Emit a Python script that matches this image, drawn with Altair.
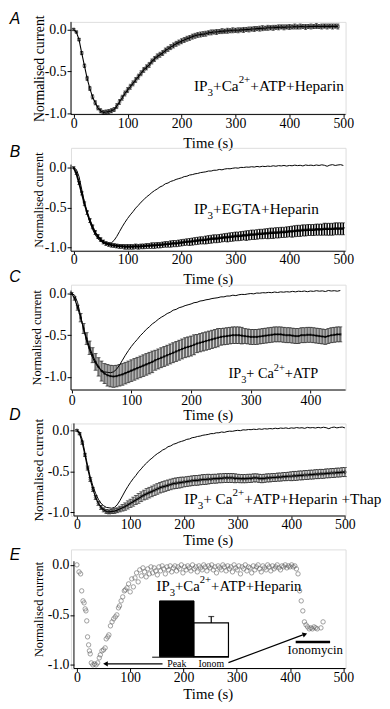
import altair as alt
import pandas as pd

SERIF = "Liberation Serif"
SANS = "Liberation Sans"

# ---------------- data ----------------
a_time = list(range(0, 491, 5))
a_mean = [0.00, -0.03, -0.12, -0.28, -0.43, -0.58, -0.70, -0.80, -0.87, -0.93,
          -0.965, -0.985, -0.98, -0.975, -0.965, -0.95, -0.91, -0.86, -0.81, -0.76,
          -0.72, -0.68, -0.64, -0.60, -0.56, -0.52, -0.48, -0.45, -0.42, -0.38,
          -0.35, -0.32, -0.30, -0.28, -0.25, -0.23, -0.21, -0.19, -0.17, -0.155,
          -0.14, -0.125, -0.11, -0.10, -0.085, -0.075, -0.065, -0.06, -0.055, -0.05,
          -0.04, -0.035, -0.03, -0.03, -0.025, -0.02, -0.02, -0.015, -0.015, -0.01,
          -0.01, -0.01, -0.005, -0.005, 0.0, 0.0, 0.005, 0.005, 0.01, 0.01,
          0.015, 0.015, 0.02, 0.02, 0.02, 0.025, 0.025, 0.03, 0.025, 0.03,
          0.03, 0.03, 0.035, 0.03, 0.035, 0.035, 0.03, 0.035, 0.035, 0.035,
          0.04, 0.035, 0.035, 0.04, 0.035, 0.04, 0.035, 0.04, 0.035]
a_err = [0.01, 0.01, 0.015, 0.02, 0.02, 0.025, 0.025, 0.025, 0.025, 0.025,
         0.025, 0.025, 0.025, 0.025, 0.025, 0.025, 0.03, 0.03, 0.03, 0.03,
         0.03, 0.03, 0.03, 0.03, 0.03, 0.03, 0.03, 0.03, 0.03, 0.03,
         0.03, 0.03, 0.03, 0.03, 0.03, 0.03, 0.03, 0.03, 0.03, 0.03,
         0.03, 0.03, 0.03, 0.03, 0.03, 0.03, 0.03, 0.03, 0.03, 0.03,
         0.025, 0.03, 0.025, 0.03, 0.025, 0.03, 0.025, 0.03, 0.025, 0.03,
         0.025, 0.03, 0.025, 0.03, 0.025, 0.03, 0.025, 0.03, 0.025, 0.03,
         0.03, 0.025, 0.03, 0.025, 0.03, 0.025, 0.03, 0.025, 0.03, 0.025,
         0.03, 0.025, 0.03, 0.025, 0.03, 0.025, 0.03, 0.025, 0.03, 0.025,
         0.03, 0.025, 0.03, 0.025, 0.03, 0.025, 0.03, 0.025, 0.03]

b_time = list(range(0, 501, 5))
b_mean = [0.00, -0.07, -0.19, -0.32, -0.45, -0.56, -0.66, -0.74, -0.81, -0.86,
          -0.90, -0.93, -0.95, -0.96, -0.97, -0.975, -0.98, -0.985, -0.985, -0.99,
          -0.99, -0.99, -0.99, -0.985, -0.99, -0.985, -0.985, -0.98, -0.98, -0.975,
          -0.975, -0.97, -0.97, -0.965, -0.96, -0.96, -0.955, -0.95, -0.95, -0.945,
          -0.94, -0.935, -0.93, -0.93, -0.925, -0.92, -0.915, -0.91, -0.91, -0.905,
          -0.90, -0.895, -0.89, -0.89, -0.885, -0.88, -0.875, -0.875, -0.87, -0.865,
          -0.86, -0.86, -0.855, -0.85, -0.85, -0.845, -0.84, -0.84, -0.835, -0.83,
          -0.83, -0.825, -0.825, -0.82, -0.82, -0.815, -0.815, -0.81, -0.81, -0.805,
          -0.80, -0.80, -0.795, -0.79, -0.79, -0.785, -0.785, -0.78, -0.78, -0.78,
          -0.775, -0.775, -0.775, -0.77, -0.77, -0.77, -0.77, -0.765, -0.765, -0.765, -0.765]
b_err = [0.01, 0.015, 0.02, 0.02, 0.025, 0.025, 0.025, 0.025, 0.025, 0.025,
         0.025, 0.025, 0.025, 0.025, 0.025, 0.025, 0.025, 0.025, 0.025, 0.03,
         0.03, 0.03, 0.03, 0.03, 0.03, 0.03, 0.03, 0.03, 0.03, 0.035,
         0.035, 0.035, 0.035, 0.035, 0.035, 0.035, 0.04, 0.04, 0.04, 0.04,
         0.04, 0.04, 0.04, 0.045, 0.045, 0.045, 0.045, 0.045, 0.045, 0.05,
         0.05, 0.05, 0.05, 0.05, 0.05, 0.05, 0.05, 0.055, 0.055, 0.055,
         0.055, 0.055, 0.055, 0.055, 0.06, 0.06, 0.06, 0.06, 0.06, 0.06,
         0.06, 0.06, 0.065, 0.065, 0.065, 0.065, 0.065, 0.065, 0.065, 0.065,
         0.065, 0.07, 0.07, 0.07, 0.07, 0.07, 0.07, 0.07, 0.07, 0.07,
         0.07, 0.07, 0.07, 0.075, 0.075, 0.075, 0.075, 0.075, 0.075, 0.075, 0.075]

ctrl_time = list(range(0, 501, 5))
ctrl = [0.00, -0.02, -0.11, -0.27, -0.43, -0.57, -0.68, -0.77, -0.84, -0.89,
        -0.92, -0.94, -0.945, -0.95, -0.94, -0.91, -0.86, -0.80, -0.74, -0.685,
        -0.635, -0.59, -0.55, -0.505, -0.47, -0.43, -0.40, -0.365, -0.34, -0.31,
        -0.285, -0.265, -0.24, -0.225, -0.20, -0.19, -0.17, -0.16, -0.145, -0.135,
        -0.125, -0.11, -0.105, -0.09, -0.085, -0.075, -0.07, -0.06, -0.055, -0.05,
        -0.04, -0.04, -0.03, -0.03, -0.02, -0.025, -0.015, -0.01, -0.012, -0.005,
        0.0, -0.004, 0.006, 0.004, 0.01, 0.008, 0.014, 0.01, 0.018, 0.012,
        0.02, 0.016, 0.022, 0.018, 0.026, 0.02, 0.028, 0.024, 0.03, 0.022,
        0.03, 0.026, 0.034, 0.028, 0.032, 0.024, 0.036, 0.03, 0.034, 0.028,
        0.036, 0.03, 0.038, 0.032, 0.02, 0.034, 0.04, 0.03, 0.036, 0.04, 0.03]

c_time = list(range(0, 451, 5))
c_mean = [0.00, -0.06, -0.17, -0.29, -0.42, -0.54, -0.65, -0.74, -0.82, -0.88,
          -0.93, -0.96, -0.98, -0.99, -0.995, -0.99, -0.98, -0.97, -0.955, -0.94,
          -0.925, -0.91, -0.895, -0.88, -0.865, -0.85, -0.835, -0.82, -0.80, -0.785,
          -0.77, -0.755, -0.74, -0.725, -0.71, -0.695, -0.68, -0.665, -0.65, -0.64,
          -0.63, -0.615, -0.60, -0.59, -0.58, -0.57, -0.56, -0.55, -0.54, -0.53,
          -0.52, -0.515, -0.51, -0.505, -0.50, -0.50, -0.50, -0.505, -0.51, -0.515,
          -0.52, -0.52, -0.52, -0.515, -0.51, -0.505, -0.50, -0.495, -0.49, -0.49,
          -0.49, -0.495, -0.50, -0.50, -0.505, -0.51, -0.51, -0.50, -0.50, -0.495,
          -0.495, -0.50, -0.505, -0.51, -0.515, -0.52, -0.51, -0.50, -0.495, -0.49,
          -0.49]
c_err = [0.01, 0.02, 0.03, 0.05, 0.06, 0.07, 0.08, 0.09, 0.10, 0.11,
         0.12, 0.12, 0.13, 0.13, 0.13, 0.13, 0.13, 0.13, 0.13, 0.13,
         0.13, 0.13, 0.13, 0.13, 0.13, 0.13, 0.13, 0.13, 0.12, 0.12,
         0.12, 0.12, 0.12, 0.12, 0.12, 0.12, 0.12, 0.12, 0.12, 0.12,
         0.12, 0.12, 0.11, 0.11, 0.11, 0.11, 0.11, 0.11, 0.11, 0.11,
         0.10, 0.10, 0.10, 0.10, 0.10, 0.10, 0.10, 0.10, 0.09, 0.09,
         0.09, 0.09, 0.09, 0.09, 0.09, 0.09, 0.09, 0.09, 0.09, 0.09,
         0.09, 0.09, 0.09, 0.09, 0.09, 0.09, 0.09, 0.09, 0.09, 0.09,
         0.09, 0.09, 0.09, 0.09, 0.09, 0.09, 0.09, 0.09, 0.09, 0.09,
         0.09]

d_time = list(range(0, 501, 5))
d_mean = [0.00, -0.04, -0.15, -0.30, -0.46, -0.60, -0.72, -0.82, -0.89, -0.94,
          -0.97, -0.99, -0.995, -0.99, -0.985, -0.975, -0.96, -0.945, -0.93, -0.91,
          -0.89, -0.87, -0.85, -0.83, -0.81, -0.79, -0.775, -0.76, -0.745, -0.73,
          -0.715, -0.70, -0.69, -0.68, -0.67, -0.66, -0.65, -0.645, -0.64, -0.635,
          -0.63, -0.625, -0.62, -0.615, -0.61, -0.61, -0.605, -0.60, -0.60, -0.595,
          -0.595, -0.59, -0.59, -0.585, -0.585, -0.58, -0.58, -0.58, -0.58, -0.585,
          -0.585, -0.59, -0.59, -0.59, -0.585, -0.585, -0.58, -0.58, -0.585, -0.59,
          -0.585, -0.58, -0.58, -0.575, -0.575, -0.57, -0.57, -0.565, -0.565, -0.56,
          -0.56, -0.555, -0.555, -0.55, -0.55, -0.545, -0.545, -0.54, -0.54, -0.535,
          -0.535, -0.53, -0.53, -0.525, -0.525, -0.52, -0.52, -0.515, -0.515, -0.51, -0.51]
d_err = [0.01, 0.015, 0.02, 0.02, 0.025, 0.025, 0.025, 0.025, 0.025, 0.025,
         0.025, 0.025, 0.025, 0.025, 0.03, 0.03, 0.035, 0.04, 0.045, 0.05,
         0.05, 0.055, 0.055, 0.06, 0.06, 0.06, 0.065, 0.065, 0.065, 0.065,
         0.065, 0.065, 0.065, 0.065, 0.065, 0.065, 0.065, 0.065, 0.065, 0.065,
         0.06, 0.06, 0.06, 0.06, 0.06, 0.06, 0.06, 0.06, 0.06, 0.06,
         0.055, 0.055, 0.055, 0.055, 0.055, 0.055, 0.055, 0.055, 0.055, 0.055,
         0.05, 0.05, 0.05, 0.05, 0.05, 0.05, 0.05, 0.05, 0.05, 0.05,
         0.05, 0.05, 0.05, 0.05, 0.05, 0.05, 0.05, 0.05, 0.05, 0.05,
         0.055, 0.055, 0.055, 0.055, 0.055, 0.055, 0.055, 0.055, 0.055, 0.055,
         0.055, 0.055, 0.055, 0.055, 0.055, 0.055, 0.055, 0.055, 0.055, 0.055, 0.055]

e_time = [0, 4, 7, 9, 11.5, 13.5, 15.5, 17, 18.5, 20,
          22, 23.5, 25, 27, 30, 33, 36, 39, 42, 44,
          47, 50, 53, 55, 58, 60, 63, 66, 69, 72,
          75, 78, 80, 83, 86, 89, 91, 94, 97, 100,
          103, 106, 109, 112, 115, 118, 121, 124, 127, 130,
          133, 136, 139, 142, 145, 148, 151, 154, 157, 160,
          163, 166, 169, 172, 175, 178, 181, 184, 187, 190,
          193, 196, 199, 202, 205, 208, 211, 214, 217, 220,
          223, 226, 229, 232, 235, 238, 241, 244, 247, 250,
          253, 256, 259, 262, 265, 268, 271, 274, 277, 280,
          283, 286, 289, 292, 295, 298, 301, 304, 307, 310,
          313, 316, 319, 322, 325, 328, 331, 334, 337, 340,
          343, 346, 349, 352, 355, 358, 361, 364, 367, 370,
          373, 376, 379, 382, 385, 388, 391, 394, 397, 400,
          403, 406, 409, 412, 415, 418, 421, 424, 427, 430,
          433, 436, 439, 442, 445, 448, 451, 458, 462]
e_val = [0.0, -0.07, -0.09, -0.26, -0.36, -0.38, -0.44, -0.46, -0.56, -0.72,
         -0.80, -0.86, -0.89, -0.98, -1.0, -0.99, -1.0, -0.98, -0.93, -0.90,
         -0.86, -0.85, -0.83, -0.74, -0.72, -0.70, -0.61, -0.57, -0.54, -0.52,
         -0.50, -0.43, -0.41, -0.36, -0.32, -0.26, -0.25, -0.23, -0.19, -0.27,
         -0.14, -0.22, -0.13, -0.08, -0.17, -0.05, -0.11, -0.03, -0.07, -0.12,
         -0.04, -0.09, -0.02, -0.08, -0.03, -0.06, -0.10, -0.02, -0.06, -0.01,
         -0.04, -0.09, -0.02, -0.05, -0.01, -0.07, -0.03, -0.01, -0.06, -0.02,
         -0.04, 0.0, -0.08, -0.02, -0.05, -0.01, -0.03, -0.06, 0.0, -0.04,
         -0.02, -0.07, -0.01, -0.03, -0.05, 0.0, -0.02, -0.06, -0.01, -0.03,
         0.0, -0.05, -0.02, -0.08, -0.01, -0.03, -0.05, 0.0, -0.02, -0.06,
         -0.01, -0.04, -0.02, -0.07, 0.0, -0.03, -0.05, -0.01, -0.09, -0.02,
         -0.04, 0.0, -0.06, -0.02, -0.03, -0.08, -0.01, -0.05, -0.02, 0.0,
         -0.04, -0.07, -0.01, -0.03, -0.05, 0.0, -0.02, -0.06, -0.01, -0.04,
         -0.02, 0.0, -0.03, -0.05, -0.01, -0.02, 0.0, -0.03, -0.01, -0.02,
         0.0, -0.02, -0.01, -0.04, -0.09, -0.26, -0.36, -0.46, -0.57, -0.60,
         -0.62, -0.64, -0.63, -0.64, -0.62, -0.63, -0.64, -0.63, -0.57]

inset_cat = ["Peak", "Ionom"]
inset_val = [100, 60.5]
inset_err = [0, 11.5]

# --------------- layout ---------------
PL, PR = 70, 349
W = PR - PL
MINUS = "\u2212"

CFG = {
    "A": dict(top_ext=15, top=15, bottom=109, y0=22.7, yu=85.6, x0=72.7, xs=0.548, xoff=0, lpad=-1,
              xticks=[0, 100, 200, 300, 400, 500], xtitle_y=29, ytitle_x=38.5, ytitle_fs=14, letter_y=12),
    "B": dict(top_ext=143, top=160, bottom=248, y0=163.3, yu=81.0, x0=72.7, xs=0.548, xoff=0, lpad=-1,
              xticks=[0, 100, 200, 300, 400, 500], xtitle_y=28, ytitle_x=36.7, ytitle_fs=12.5, letter_y=147),
    "C": dict(top_ext=282, top=288, bottom=389, y0=291, yu=84.7, x0=70.7, xs=0.6065, xoff=0, lpad=1,
              xticks=[0, 100, 200, 300, 400], xtitle_y=26, ytitle_x=35, ytitle_fs=12.5, letter_y=274),
    "D": dict(top_ext=423, top=423, bottom=517, y0=430, yu=83.3, x0=76, xs=0.5446, xoff=3, lpad=-1,
              xticks=[0, 100, 200, 300, 400, 500], xtitle_y=24.5, ytitle_x=37, ytitle_fs=13.5, letter_y=415),
    "E": dict(top_ext=551, top=563, bottom=672, y0=566.7, yu=101.6, x0=76, xs=0.5414, xoff=3, lpad=-1,
              xticks=[0, 100, 200, 300, 400, 500], xtitle_y=25.5, ytitle_x=36.7, ytitle_fs=12.5, letter_y=557),
}

TW = {' ': 0.25, '+': 0.564, 'A': 0.722, 'C': 0.667, 'E': 0.611, 'G': 0.722, 'H': 0.722,
      'I': 0.333, 'P': 0.556, 'T': 0.611, 'a': 0.444, 'e': 0.444, 'h': 0.5, 'i': 0.278,
      'n': 0.5, 'p': 0.5, 'r': 0.333, '2': 0.5, '3': 0.5}

one = pd.DataFrame({"k": [0]})


def series_df(t, m, e=None):
    d = pd.DataFrame({"t": t, "v": m})
    if e is not None:
        d["lo"] = [a - b for a, b in zip(m, e)]
        d["hi"] = [a + b for a, b in zip(m, e)]
    return d


def make_enc(cfg):
    ydom = [-(cfg["bottom"] - cfg["y0"]) / cfg["yu"], (cfg["y0"] - cfg["top_ext"]) / cfg["yu"]]
    xdom = [(PL - cfg["x0"]) / cfg["xs"], (PR - cfg["x0"]) / cfg["xs"]]
    xs = alt.Scale(domain=xdom, nice=False, zero=False)
    ys = alt.Scale(domain=ydom, nice=False, zero=False)
    xa = alt.Axis(values=cfg["xticks"], title=None, domain=False, grid=False,
                  tickSize=3, tickColor="black", tickWidth=1,
                  labelFont=SERIF, labelFontSize=14, labelColor="black", labelPadding=cfg["lpad"],
                  labelFlush=False, labelOverlap=False)
    ya = alt.Axis(values=[0, -0.5, -1], title="Normalised current", domain=False, grid=False,
                  tickSize=4, tickColor="black", tickWidth=1,
                  labelFont=SERIF, labelFontSize=14, labelColor="black", labelPadding=1,
                  labelExpr="replace(format(datum.value, '.1f'), '" + MINUS + "', '-')",
                  titleFont=SERIF, titleFontSize=cfg["ytitle_fs"], titleFontWeight="normal",
                  titleColor="black", titleX=cfg["ytitle_x"] - PL - cfg["xoff"],
                  titleBaseline="middle", offset=-cfg["xoff"])

    def X(f="t"):
        return alt.X(f"{f}:Q", scale=xs, axis=xa)

    def Y(f="v"):
        return alt.Y(f"{f}:Q", scale=ys, axis=ya)
    return X, Y


def frame_layers(cfg, letter):
    H = cfg["bottom"] - cfg["top_ext"]
    yline = alt.Chart(one).mark_rule(color="black", strokeWidth=1).encode(
        x=alt.value(cfg["xoff"]), y=alt.value(H), y2=alt.value(cfg["top"] - cfg["top_ext"]))
    xline = alt.Chart(one).mark_rule(color="black", strokeWidth=1).encode(
        x=alt.value(cfg["xoff"]), x2=alt.value(W), y=alt.value(H))
    let = alt.Chart(one).mark_text(text=letter, font=SANS, fontStyle="italic", fontSize=16,
                                   align="center", baseline="middle", color="black").encode(
        x=alt.value(-57), y=alt.value(cfg["letter_y"] - cfg["top_ext"]))
    xtitle = alt.Chart(one).mark_text(text="Time (s)", font=SERIF, fontSize=15,
                                      fontWeight="normal", align="center", baseline="middle",
                                      color="black").encode(
        x=alt.value(W / 2), y=alt.value(H + cfg["xtitle_y"]))
    return [yline, xline, let, xtitle]


def label_layers(parts, t, v, size, X, Y):
    df = pd.DataFrame({"t": [t], "v": [v]})
    out = []
    dx = 0.0
    for txt, kind in parts:
        fs = size if kind == "n" else size * 0.72
        dy = 0 if kind == "n" else (size * 0.33 if kind == "sub" else -size * 0.5)
        out.append(alt.Chart(df).mark_text(text=txt, align="left", baseline="alphabetic",
                                           dx=dx, dy=dy, font=SERIF, fontSize=fs,
                                           color="black").encode(x=X(), y=Y()))
        dx += sum(TW.get(c, 0.5) for c in txt) * fs
    return out


def errbars(df, X, Y, color, width, cap):
    r = alt.Chart(df).mark_rule(color=color, strokeWidth=width).encode(
        x=X(), y=Y("lo"), y2=alt.Y2("hi:Q"))
    c1 = alt.Chart(df).mark_tick(orient="horizontal", size=cap, thickness=0.8,
                                 color="black").encode(x=X(), y=Y("hi"))
    c2 = alt.Chart(df).mark_tick(orient="horizontal", size=cap, thickness=0.8,
                                 color="black").encode(x=X(), y=Y("lo"))
    return [r, c1, c2]


def line(df, X, Y, width, color="black"):
    return alt.Chart(df).mark_line(color=color, strokeWidth=width).encode(x=X(), y=Y())


IP_CA = [("IP", "n"), ("3", "sub"), ("+Ca", "n"), ("2+", "sup")]

# ---- Panel A ----
cA = CFG["A"]
XA, YA = make_enc(cA)
dfA = series_df(a_time, a_mean, a_err)
layersA = frame_layers(cA, "A") + errbars(dfA, XA, YA, "black", 0.8, 3) + [
    line(dfA, XA, YA, 1.1),
    alt.Chart(dfA).mark_point(shape="square", size=7, filled=False, color="black",
                              strokeWidth=0.8).encode(x=XA(), y=YA()),
] + label_layers(IP_CA + [("+ATP+Heparin", "n")], 223.2, -0.728, 15.5, XA, YA)
panelA = alt.layer(*layersA).properties(width=W, height=cA["bottom"] - cA["top_ext"])

# ---- Panel B ----
cB = CFG["B"]
XB, YB = make_enc(cB)
dfB = series_df(b_time, b_mean, b_err)
dfCtrl = series_df(ctrl_time, ctrl)
layersB = frame_layers(cB, "B") + [line(dfCtrl, XB, YB, 1)] + errbars(dfB, XB, YB, "black", 1.5, 3.5) + [
    line(dfB, XB, YB, 1.8),
    alt.Chart(dfB).mark_point(shape="triangle-down", size=14, filled=True, color="black").encode(
        x=XB(), y=YB()),
] + label_layers([("IP", "n"), ("3", "sub"), ("+EGTA+Heparin", "n")], 223.2, -0.577, 15.5, XB, YB)
panelB = alt.layer(*layersB).properties(width=W, height=cB["bottom"] - cB["top_ext"])

# ---- Panel C ----
cC = CFG["C"]
XC, YC = make_enc(cC)
dfC = series_df(c_time, c_mean, c_err)
dfCtrlC = series_df(ctrl_time[:91], ctrl[:91])
layersC = frame_layers(cC, "C") + errbars(dfC, XC, YC, "#6f6f6f", 2.4, 4) + [
    line(dfC, XC, YC, 1.2),
    alt.Chart(dfC).mark_point(shape="square", size=5, filled=True, color="black").encode(
        x=XC(), y=YC()),
    line(dfCtrlC, XC, YC, 1),
] + label_layers([("IP", "n"), ("3", "sub"), ("+ Ca", "n"), ("2+", "sup"), ("+ATP", "n")],
                 262.7, -1.012, 14.5, XC, YC)
panelC = alt.layer(*layersC).properties(width=W, height=cC["bottom"] - cC["top_ext"])

# ---- Panel D ----
cD = CFG["D"]
XD, YD = make_enc(cD)
dfD = series_df(d_time, d_mean, d_err)
layersD = frame_layers(cD, "D") + errbars(dfD, XD, YD, "#808080", 2.0, 4) + [
    line(dfD, XD, YD, 1.2),
    alt.Chart(dfD).mark_point(shape="circle", size=8, filled=False, color="black",
                              strokeWidth=0.7).encode(x=XD(), y=YD()),
    line(dfCtrl, XD, YD, 1),
] + label_layers([("IP", "n"), ("3", "sub"), ("+ Ca", "n"), ("2+", "sup"),
                  ("+ATP+Heparin +Thap", "n")], 200.1, -0.90, 15.5, XD, YD)
panelD = alt.layer(*layersD).properties(width=W, height=cD["bottom"] - cD["top_ext"])

# ---- Panel E ----
cE = CFG["E"]
XE, YE = make_enc(cE)
HE = cE["bottom"] - cE["top_ext"]
dfE = pd.DataFrame({"t": e_time, "v": e_val})
arrows = pd.DataFrame({"t": [160.7, 284.4], "v": [-0.99, -0.978],
                       "t2": [57.0, 424.0], "v2": [-0.99, -0.70]})
heads_l = pd.DataFrame({"t": [53.6], "v": [-0.99]})
heads_r = pd.DataFrame({"t": [428.0], "v": [-0.693]})
iono_bar = pd.DataFrame({"t": [410.6], "t2": [475.2], "v": [-0.771]})
layersE = frame_layers(cE, "E") + [
    alt.Chart(dfE).mark_point(shape="circle", size=20, filled=False, color="#555555",
                              strokeWidth=0.8).encode(x=XE(), y=YE()),
    alt.Chart(arrows).mark_rule(color="black", strokeWidth=1.2).encode(
        x=XE(), y=YE(), x2=alt.X2("t2:Q"), y2=alt.Y2("v2:Q")),
    alt.Chart(heads_l).mark_point(shape="triangle-left", size=30, filled=True, color="black",
                                  opacity=1).encode(x=XE(), y=YE()),
    alt.Chart(heads_r).mark_point(shape="triangle-right", size=30, filled=True, color="black",
                                  opacity=1, angle=340).encode(x=XE(), y=YE()),
    alt.Chart(iono_bar).mark_rule(color="black", strokeWidth=2.5).encode(
        x=XE(), x2=alt.X2("t2:Q"), y=YE()),
] + label_layers(IP_CA + [("+ATP+Heparin", "n")], 149.6, -0.259, 15, XE, YE) + \
    label_layers([("Ionomycin", "n")], 395.3, -0.889, 13, XE, YE)
mainE = alt.layer(*layersE)

inset_df = pd.DataFrame({"cat": inset_cat, "val": inset_val,
                         "lo": inset_val, "hi": [a + b for a, b in zip(inset_val, inset_err)]})
xin = alt.X("cat:N", sort=inset_cat,
            scale=alt.Scale(domain=inset_cat, range=[82, 160], paddingInner=0,
                            paddingOuter=0.114, align=1),
            axis=alt.Axis(orient="bottom", offset=-(HE - 109), title=None, ticks=False,
                          domainColor="black", domainWidth=1, labelAngle=0,
                          labelFont=SERIF, labelFontSize=10, labelColor="black", labelPadding=2))
yin_scale = alt.Scale(domain=[0, 100], range=[109, 52.3], nice=False, zero=True)
yin = alt.Y("val:Q", scale=yin_scale,
            axis=alt.Axis(orient="left", offset=-82, values=[50, 100], title="% Current",
                          grid=False, tickSize=3, tickColor="black", domainColor="black",
                          labelFont=SERIF, labelFontSize=9, labelColor="black", labelPadding=1,
                          titleFont=SERIF, titleFontSize=8, titleFontWeight="normal",
                          titleColor="black", titlePadding=2))
inset = alt.layer(
    alt.Chart(inset_df).transform_filter("datum.cat == 'Peak'").mark_bar(
        color="black", stroke="black", strokeWidth=1).encode(x=xin, y=yin),
    alt.Chart(inset_df).transform_filter("datum.cat == 'Ionom'").mark_bar(
        fill="white", stroke="black", strokeWidth=1.2).encode(x=xin, y=yin),
    alt.Chart(inset_df).transform_filter("datum.cat == 'Ionom'").mark_rule(
        color="black", strokeWidth=1.2).encode(
        x=xin, y=alt.Y("lo:Q", scale=yin_scale, axis=None), y2=alt.Y2("hi:Q")),
    alt.Chart(inset_df).transform_filter("datum.cat == 'Ionom'").mark_tick(
        orient="horizontal", size=6, thickness=1.2, color="black").encode(
        x=xin, y=alt.Y("hi:Q", scale=yin_scale, axis=None)),
)
panelE = alt.layer(mainE, inset).resolve_scale(x="independent", y="independent").properties(
    width=W, height=HE)

chart = alt.vconcat(panelA, panelB, panelC, panelD, panelE, spacing=34, bounds="flush").properties(
    padding={"left": 0, "top": -3.5, "right": 0, "bottom": 0},
    background="white",
).configure_view(stroke=None).configure(font=SERIF).configure_axis(
    titleFontWeight="normal", titleFont=SERIF, labelFont=SERIF)

chart.save("out.html", embed_options={"renderer": "svg", "actions": False})
